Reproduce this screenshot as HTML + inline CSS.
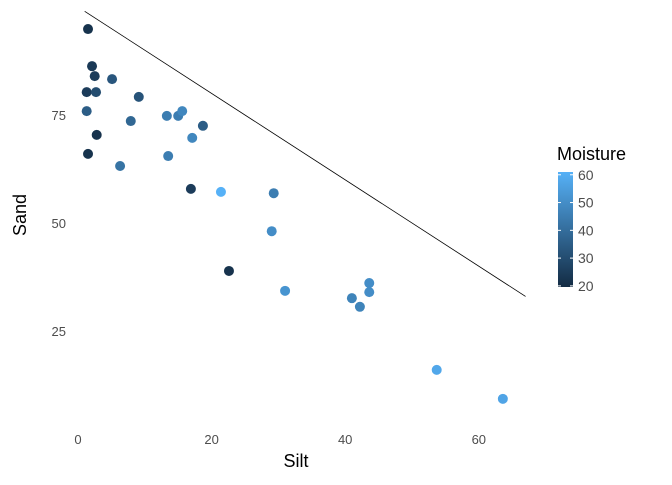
<!DOCTYPE html>
<html><head><meta charset="utf-8"><style>
body{margin:0;background:#fff;}
svg text{font-family:"Liberation Sans",sans-serif;}
</style></head><body>
<svg id="chart" width="672" height="480" xmlns="http://www.w3.org/2000/svg">
<defs><linearGradient id="grad" x1="0" y1="1" x2="0" y2="0">
<stop offset="0" stop-color="#132B43"/><stop offset="1" stop-color="#56B1F7"/></linearGradient></defs>
<g id="plot"></g>
<text x="296" y="467" font-size="18" text-anchor="middle" fill="#000">Silt</text>
<text x="26" y="215" font-size="18" text-anchor="middle" fill="#000" transform="rotate(-90 26 215)">Sand</text>
<g>
<text x="557" y="160" font-size="18" fill="#000">Moisture</text>
<rect x="558" y="172" width="15" height="115" fill="url(#grad)"/>
<g id="legticks"></g>
</g>
</svg>
<script>
const silt=[1.5,2.1,2.5,1.3,2.7,5.1,1.3,2.8,9.1,7.9,1.5,6.3,13.3,15.0,15.6,18.7,17.1,13.5,16.9,21.4,29.3,29.0,22.6,31.0,41.0,42.2,43.6,43.6,53.7,63.6];
const sand=[94.9,86.3,84.0,80.3,80.3,83.3,75.9,70.4,79.2,73.6,66.0,63.2,74.8,74.8,75.9,72.5,69.7,65.5,57.9,57.2,56.9,48.1,38.9,34.3,32.6,30.6,36.1,34.0,16.0,9.3];
const moisture=[22,24,25,25,30,33,35,22,32,38,22,42,45,45,48,35,48,45,25,62,45,50,22,52,47,47,50,50,58,57];
const xTicks=[0,20,40,60];
const yTicks=[25,50,75];
const legTicks=[20,30,40,50,60];
const line=[[1,99],[67,33]];
const mMin=19.6,mMax=61;
const X=v=>78+v*6.68, Y=v=>439-v*4.32;
const NS="http://www.w3.org/2000/svg";
const plot=document.getElementById('plot');
function mk(t,a,p){const e=document.createElementNS(NS,t);for(const k in a)e.setAttribute(k,a[k]);(p||plot).appendChild(e);return e;}
function col(m){const t=Math.max(0,Math.min(1,(m-mMin)/(mMax-mMin)));const a=[0x13,0x2B,0x43],b=[0x56,0xB1,0xF7];return 'rgb('+a.map((c,i)=>Math.round(c+(b[i]-c)*t)).join(',')+')';}
const ln=mk('line',{x1:X(line[0][0]),y1:Y(line[0][1]),x2:X(line[1][0]),y2:Y(line[1][1]),stroke:'#000','stroke-width':0.8});


xTicks.forEach(v=>{const t=mk('text',{x:X(v),y:444,'font-size':13,fill:'#4D4D4D','text-anchor':'middle'});t.textContent=v;

});
yTicks.forEach(v=>{const t=mk('text',{x:66,y:Y(v)+5,'font-size':13,fill:'#4D4D4D','text-anchor':'end'});t.textContent=v;

});
silt.forEach((s,i)=>{const c=mk('circle',{cx:X(s),cy:Y(sand[i]),r:5,fill:col(moisture[i])});

});
const lg=document.getElementById('legticks');
const LY=v=>287-(v-mMin)/(mMax-mMin)*115;
legTicks.forEach(v=>{mk('line',{x1:558,x2:561,y1:LY(v),y2:LY(v),stroke:'#fff'},lg);mk('line',{x1:570,x2:573,y1:LY(v),y2:LY(v),stroke:'#fff'},lg);
const t=mk('text',{x:578,y:LY(v)+5,'font-size':14,fill:'#4D4D4D'},lg);t.textContent=v;

});
</script>
</body></html>
